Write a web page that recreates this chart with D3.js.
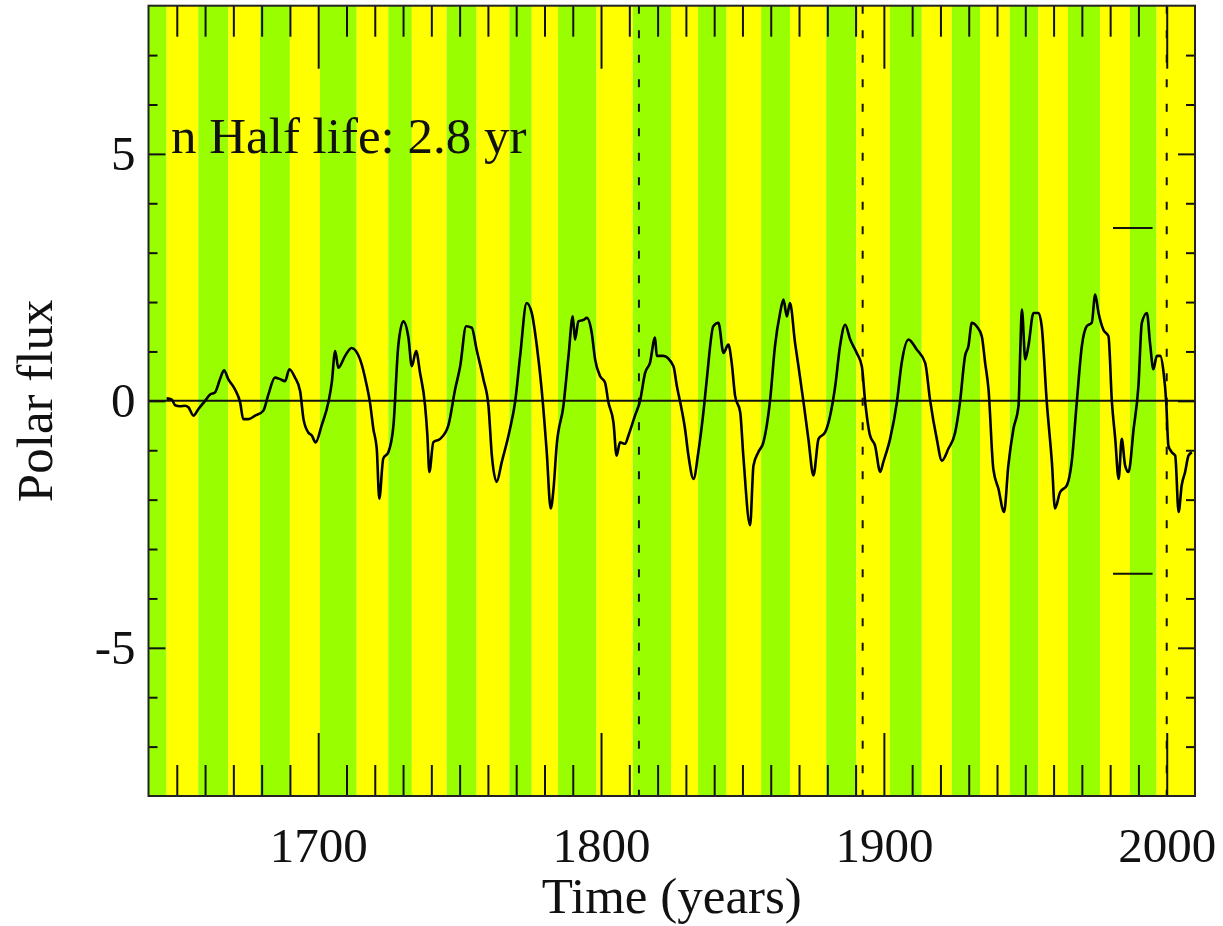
<!DOCTYPE html>
<html>
<head>
<meta charset="utf-8">
<script src="https://cdn.jsdelivr.net/npm/d3@7"></script>
<style>
  body { margin: 0; background: #fff; }
  svg text { font-family: "Liberation Serif", "DejaVu Serif", serif; fill: #111; }
</style>
</head>
<body>
<svg id="chart"></svg>
<script>
// Polar flux vs time, solar cycles shaded

// cycle boundaries (years), bands alternate green / yellow starting with green
const cycleEdges = [1640, 1646.4, 1657.6, 1668.2, 1679.4, 1690.0, 1700.6, 1713.6, 1724.8, 1733.1,
    1745.4, 1756.0, 1767.6, 1775.5, 1784.8, 1798.4, 1811.2, 1824.8, 1834.3, 1844.4, 1856.6,
    1866.8, 1879.6, 1890.3, 1902.1, 1913.4, 1924.0, 1934.0, 1944.5, 1954.6, 1965.1, 1976.4,
    1987.0, 1996.4, 2010]
const bandColors = ["#99ff00", "#ffff00"]

// polar flux series
const fluxYears = [
    1646.4, 1648.2, 1649.4, 1651.1, 1652.9, 1654.1, 1655.9, 1657.6, 1660.0, 1661.8, 1663.5,
    1665.3, 1666.7, 1668.2, 1670.6, 1672.4, 1673.5, 1675.3, 1677.7, 1680.6, 1682.4, 1684.7,
    1686.5, 1688.3, 1689.8, 1691.8, 1693.6, 1694.8, 1696.5, 1697.7, 1699.1, 1701.2, 1703.6,
    1704.8, 1706.0, 1707.1, 1709.5, 1711.8, 1714.8, 1717.2, 1718.3, 1719.5, 1720.7, 1721.6,
    1723.0, 1724.8, 1726.6, 1728.3, 1730.1, 1731.9, 1733.1, 1734.6, 1736.0, 1737.8, 1738.6,
    1739.3, 1740.7, 1743.1, 1746.0, 1748.4, 1750.2, 1752.3, 1754.3, 1756.0, 1758.4, 1760.2,
    1761.4, 1763.1, 1764.9, 1767.8, 1769.6, 1771.4, 1773.7, 1775.5, 1777.3, 1779.0, 1780.8,
    1782.2, 1783.2, 1784.3, 1786.7, 1788.5, 1790.0, 1790.8, 1792.0, 1793.8, 1795.0, 1796.7,
    1797.9, 1799.7, 1801.4, 1802.6, 1804.4, 1805.5, 1806.7, 1808.5, 1809.7, 1812.0, 1813.8,
    1815.6, 1817.3, 1819.1, 1819.7, 1822.0, 1825.6, 1826.8, 1828.0, 1829.7, 1830.9, 1832.7,
    1834.4, 1836.2, 1837.4, 1839.7, 1841.5, 1843.3, 1845.0, 1846.2, 1847.4, 1849.2, 1850.3,
    1852.7, 1853.9, 1855.6, 1857.4, 1859.8, 1861.5, 1863.3, 1864.5, 1865.7, 1866.8, 1868.6,
    1869.8, 1871.6, 1873.3, 1875.1, 1876.9, 1879.2, 1881.0, 1882.8, 1884.5, 1886.3, 1888.1,
    1890.4, 1892.2, 1893.4, 1895.1, 1896.9, 1898.7, 1899.8, 1902.2, 1904.6, 1906.3, 1908.7,
    1911.6, 1914.6, 1916.3, 1918.7, 1920.5, 1922.8, 1925.2, 1926.9, 1928.7, 1929.9, 1931.1,
    1932.8, 1934.6, 1935.8, 1937.0, 1938.7, 1940.5, 1942.5, 1944.0, 1945.8, 1947.6, 1948.2,
    1948.8, 1950.0, 1951.1, 1952.9, 1954.7, 1955.8, 1957.6, 1959.4, 1960.5, 1962.3, 1964.7,
    1966.4, 1968.2, 1970.0, 1971.7, 1973.5, 1974.7, 1975.9, 1977.6, 1979.4, 1980.6, 1981.8,
    1983.0, 1984.1, 1985.3, 1986.5, 1988.3, 1990.0, 1991.2, 1993.0, 1994.1, 1995.3, 1996.5,
    1997.7, 1998.9, 1999.8, 2000.6, 2001.8, 2003.0, 2004.2, 2005.3, 2006.5, 2007.7, 2008.9]
const fluxValues = [
    0.05, 0.03, -0.09, -0.11, -0.10, -0.13, -0.30, -0.17, 0.00, 0.13, 0.17,
    0.44, 0.62, 0.44, 0.23, -0.03, -0.37, -0.37, -0.30, -0.20, 0.13, 0.47,
    0.44, 0.40, 0.64, 0.47, 0.20, -0.37, -0.64, -0.70, -0.84, -0.50, -0.03,
    0.37, 1.01, 0.67, 0.91, 1.07, 0.84, 0.30, -0.03, -0.57, -0.97, -1.98,
    -1.17, -1.04, -0.50, 1.11, 1.61, 1.28, 0.70, 1.01, 0.57, -0.10, -0.70,
    -1.44, -0.84, -0.77, -0.50, 0.23, 0.70, 1.51, 1.48, 1.04, 0.44, -0.10,
    -1.11, -1.64, -1.24, -0.57, -0.03, 0.91, 1.98, 1.78, 1.11, 0.23, -1.04,
    -2.18, -1.78, -0.91, -0.10, 0.91, 1.71, 1.24, 1.61, 1.64, 1.68, 1.38,
    0.84, 0.50, 0.37, -0.03, -0.44, -1.11, -0.84, -0.87, -0.70, -0.30, 0.00,
    0.57, 0.77, 1.28, 0.91, 0.91, 0.70, 0.30, -0.03, -0.57, -1.11, -1.58,
    -1.04, -0.23, 0.44, 1.51, 1.58, 0.97, 1.14, 0.77, 0.10, -0.23, -1.11,
    -2.52, -1.31, -1.04, -0.84, 0.03, 1.11, 1.78, 2.05, 1.71, 1.98, 1.17,
    0.70, -0.03, -0.77, -1.51, -0.77, -0.64, -0.30, 0.30, 1.11, 1.54, 1.24,
    0.97, 0.70, -0.03, -0.70, -0.91, -1.44, -1.24, -0.77, -0.03, 0.77, 1.24,
    1.04, 0.77, 0.03, -0.77, -1.21, -0.97, -0.64, -0.03, 0.91, 1.11, 1.58,
    1.51, 1.31, 0.77, 0.23, -1.38, -1.78, -2.25, -1.31, -0.57, -0.10, 0.97,
    1.85, 0.84, 1.11, 1.78, 1.78, 1.51, -0.03, -1.24, -2.18, -1.85, -1.71,
    -1.24, -0.03, 1.11, 1.51, 1.58, 2.15, 1.78, 1.44, 1.31, 0.00, -0.77,
    -1.58, -0.77, -1.31, -1.44, -0.57, 0.30, 1.58, 1.78, 1.17, 0.64, 0.91,
    0.91, 0.57, 0.00, -0.91, -1.04, -1.11, -2.25, -1.71, -1.44, -1.11, -1.04]

const dashedYears = [1813.4, 1892.5, 2000]
const markerYears = [1981, 1995]
const markerLevels = [3.5, -3.5]

const xMajor = [1700, 1800, 1900, 2000]
const xMinor = d3.range(1650, 2010, 10).filter(d => d % 100 != 0)
const yMajor = [-5, 0, 5]
const yMinor = d3.range(-7, 8, 1).filter(d => d % 5 != 0)

const svgWidth = 1223
const svgHeight = 926
const margin = { left: 148.5, right: 28, top: 5.7, bottom: 130 }

const svg = d3.select("#chart")
    .attr("width", svgWidth)
    .attr("height", svgHeight)

const x = d3.scaleLinear().domain([1640, 2010]).range([margin.left, svgWidth - margin.right])
const y = d3.scaleLinear().domain([-8, 8]).range([svgHeight - margin.bottom, margin.top])

const plotW = x.range()[1] - x.range()[0]
const plotH = y.range()[0] - y.range()[1]

// bands
const bands = d3.pairs(cycleEdges).map((p, i) => ({ x0: p[0], x1: p[1], color: bandColors[i % 2] }))
svg.append("g").selectAll("rect")
    .data(bands)
    .enter()
    .append("rect")
    .attr("x", d => x(d.x0))
    .attr("width", d => x(d.x1) - x(d.x0))
    .attr("y", y(8))
    .attr("height", plotH)
    .attr("fill", d => d.color)

// dashed verticals
svg.append("g").selectAll("line")
    .data(dashedYears)
    .enter()
    .append("line")
    .attr("x1", d => x(d)).attr("x2", d => x(d))
    .attr("y1", y(8)).attr("y2", y(-8))
    .attr("stroke", "#111")
    .attr("stroke-width", 2)
    .attr("stroke-dasharray", "8,16.5")

// zero line
svg.append("line")
    .attr("x1", x(1640)).attr("x2", x(2010))
    .attr("y1", y(0)).attr("y2", y(0))
    .attr("stroke", "#111")
    .attr("stroke-width", 2)

// short markers
svg.append("g").selectAll("line")
    .data(markerLevels)
    .enter()
    .append("line")
    .attr("x1", x(markerYears[0])).attr("x2", x(markerYears[1]))
    .attr("y1", d => y(d)).attr("y2", d => y(d))
    .attr("stroke", "#111")
    .attr("stroke-width", 2)

// flux curve
const flux = fluxYears.map((yr, i) => ({ year: yr, value: fluxValues[i] }))
const line = d3.line().x(d => x(d.year)).y(d => y(d.value)).curve(d3.curveMonotoneX)
svg.append("path")
    .datum(flux)
    .attr("d", line)
    .attr("fill", "none")
    .attr("stroke", "#000")
    .attr("stroke-width", 2.6)
    .attr("stroke-linejoin", "round")

// axes (ticks point inward)
function styleAxis(g) {
    g.select(".domain").remove()
    g.selectAll(".tick line").attr("stroke", "#111").attr("stroke-width", 2)
    g.selectAll(".tick text").style("font-size", "49px").attr("fill", "#111")
}

const fmtY = d => d < 0 ? "-" + Math.abs(d) : String(d)

svg.append("g").attr("transform", `translate(0,${y(-8)})`)
    .call(d3.axisBottom(x).tickValues(xMinor).tickSize(-31).tickFormat(""))
    .call(styleAxis)
svg.append("g").attr("transform", `translate(0,${y(-8)})`)
    .call(d3.axisBottom(x).tickValues(xMajor).tickSize(-63).tickPadding(31).tickFormat(d3.format("d")))
    .call(styleAxis)
svg.append("g").attr("transform", `translate(0,${y(8)})`)
    .call(d3.axisTop(x).tickValues(xMinor).tickSize(-31).tickFormat(""))
    .call(styleAxis)
svg.append("g").attr("transform", `translate(0,${y(8)})`)
    .call(d3.axisTop(x).tickValues(xMajor).tickSize(-63).tickFormat(""))
    .call(styleAxis)

svg.append("g").attr("transform", `translate(${x(1640)},0)`)
    .call(d3.axisLeft(y).tickValues(yMinor).tickSize(-9).tickFormat(""))
    .call(styleAxis)
svg.append("g").attr("transform", `translate(${x(1640)},0)`)
    .call(d3.axisLeft(y).tickValues(yMajor).tickSize(-17).tickPadding(13).tickFormat(fmtY))
    .call(styleAxis)
svg.append("g").attr("transform", `translate(${x(2010)},0)`)
    .call(d3.axisRight(y).tickValues(yMinor).tickSize(-9).tickFormat(""))
    .call(styleAxis)
svg.append("g").attr("transform", `translate(${x(2010)},0)`)
    .call(d3.axisRight(y).tickValues(yMajor).tickSize(-17).tickFormat(""))
    .call(styleAxis)

// frame
svg.append("rect")
    .attr("x", x(1640)).attr("y", y(8))
    .attr("width", plotW).attr("height", plotH)
    .attr("fill", "none")
    .attr("stroke", "#222")
    .attr("stroke-width", 2)

// labels
svg.append("text")
    .attr("x", (x.range()[0] + x.range()[1]) / 2)
    .attr("y", 913)
    .attr("text-anchor", "middle")
    .style("font-size", "51px")
    .text("Time (years)")

svg.append("text")
    .attr("transform", `translate(52,${(y.range()[0] + y.range()[1]) / 2}) rotate(-90)`)
    .attr("text-anchor", "middle")
    .style("font-size", "51px")
    .text("Polar flux")

svg.append("text")
    .attr("x", 171)
    .attr("y", 153)
    .style("font-size", "51px")
    .text("n Half life: 2.8 yr")
</script>
</body>
</html>
